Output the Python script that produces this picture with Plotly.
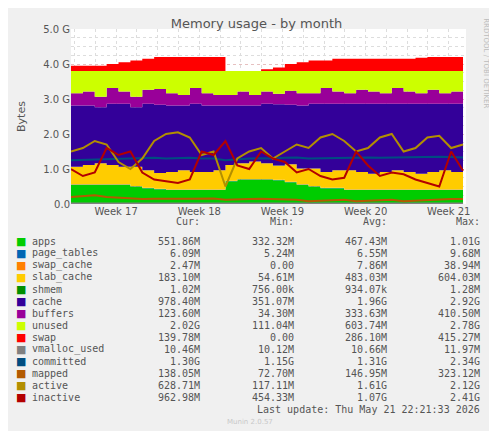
import plotly.graph_objects as go

days = list(range(34))
week_pos = [3.8, 10.8, 17.8, 24.8, 31.8]
week_labels = ["Week 17", "Week 18", "Week 19", "Week 20", "Week 21"]
day_grid = [0.3 + 1.75 * i for i in range(19)]

# stacked areas (GB)
apps = [0.55, 0.55, 0.55, 0.55, 0.55, 0.5, 0.45, 0.42, 0.4, 0.4, 0.4, 0.4, 0.4, 0.65, 0.7, 0.7, 0.7,
        0.68, 0.62, 0.55, 0.5, 0.45, 0.45, 0.4, 0.4, 0.4, 0.4, 0.4, 0.4, 0.4, 0.4, 0.4, 0.4, 0.4]
page_tables = [0.006] * 34
swap_cache = [0.01] * 34
slab_cache = [0.5, 0.55, 0.6, 0.55, 0.5, 0.55, 0.5, 0.45, 0.5, 0.55, 0.5, 0.5, 0.55, 0.45, 0.45, 0.5, 0.45,
              0.4, 0.5, 0.45, 0.5, 0.45, 0.5, 0.55, 0.5, 0.45, 0.5, 0.55, 0.5, 0.45, 0.5, 0.55, 0.5, 0.45]
shmem = [0.001] * 34
cache = [1.75, 1.7, 1.6, 1.75, 1.8, 1.7, 1.9, 1.95, 1.9, 1.85, 1.95, 1.9, 1.85, 1.7, 1.65, 1.6, 1.7,
         1.75, 1.7, 1.8, 1.85, 1.95, 1.9, 1.9, 1.95, 2.0, 1.95, 1.9, 1.95, 2.0, 1.95, 1.9, 1.95, 2.05]
buffers = [0.35, 0.4, 0.3, 0.45, 0.35, 0.3, 0.4, 0.45, 0.35, 0.3, 0.45, 0.35, 0.3, 0.3, 0.4, 0.3, 0.35,
           0.3, 0.4, 0.35, 0.3, 0.45, 0.35, 0.3, 0.4, 0.35, 0.3, 0.45, 0.35, 0.3, 0.4, 0.3, 0.35, 0.3]
unused = [0.63, 0.58, 0.73, 0.48, 0.58, 0.73, 0.53, 0.51, 0.63, 0.68, 0.48, 0.63, 0.68, 0.68, 0.58, 0.68, 0.58,
          0.65, 0.56, 0.63, 0.63, 0.48, 0.58, 0.63, 0.53, 0.58, 0.63, 0.48, 0.58, 0.63, 0.53, 0.63, 0.58, 0.58]
swap = [0.15, 0.15, 0.15, 0.2, 0.25, 0.3, 0.35, 0.4, 0.4, 0.4, 0.4, 0.4, 0.4, 0, 0, 0, 0.05,
        0.1, 0.2, 0.25, 0.3, 0.3, 0.35, 0.35, 0.35, 0.35, 0.35, 0.35, 0.35, 0.38, 0.4, 0.4, 0.4, 0.4]

# lines (GB)
vmalloc_used = [0.011] * 34
committed = [1.25, 1.26, 1.27, 1.28, 1.3, 1.3, 1.31, 1.32, 1.3, 1.31, 1.32, 1.3, 1.3, 1.25, 1.28, 1.3, 1.31,
             1.3, 1.32, 1.33, 1.3, 1.31, 1.32, 1.33, 1.34, 1.33, 1.32, 1.33, 1.34, 1.33, 1.34, 1.35, 1.34, 1.33]
mapped = [0.2, 0.22, 0.25, 0.2, 0.18, 0.15, 0.14, 0.15, 0.14, 0.15, 0.15, 0.16, 0.16, 0.12, 0.14, 0.14, 0.15,
          0.14, 0.12, 0.12, 0.08, 0.1, 0.1, 0.12, 0.08, 0.1, 0.1, 0.12, 0.08, 0.1, 0.1, 0.12, 0.14, 0.14]
active = [1.5, 1.6, 1.8, 1.7, 1.2, 1.0, 1.3, 1.8, 2.0, 2.05, 1.9, 1.4, 1.5, 0.5, 1.3, 1.5, 1.6,
          1.3, 1.5, 1.7, 1.6, 1.9, 2.0, 1.8, 1.5, 1.6, 1.9, 2.0, 1.5, 1.6, 1.9, 1.95, 1.6, 1.7]
inactive = [1.0, 0.8, 0.9, 1.6, 1.4, 1.5, 0.9, 0.7, 0.65, 0.6, 0.7, 1.5, 1.4, 1.8, 1.1, 1.0, 1.5,
            1.3, 1.2, 0.9, 1.0, 0.8, 0.7, 0.75, 1.5, 1.1, 0.8, 0.9, 0.85, 0.7, 0.6, 0.5, 1.5, 0.95]

legend_rows = [
    ("apps", "#00cc00", "551.86M", "332.32M", "467.43M", "1.01G"),
    ("page_tables", "#0066b3", "6.09M", "5.24M", "6.55M", "9.68M"),
    ("swap_cache", "#ff8000", "2.47M", "0.00", "7.86M", "38.94M"),
    ("slab_cache", "#ffcc00", "183.10M", "54.61M", "483.03M", "604.03M"),
    ("shmem", "#008f00", "1.02M", "756.00k", "934.07k", "1.28M"),
    ("cache", "#330099", "978.40M", "351.07M", "1.96G", "2.92G"),
    ("buffers", "#990099", "123.60M", "34.30M", "333.63M", "410.50M"),
    ("unused", "#ccff00", "2.02G", "111.04M", "603.74M", "2.78G"),
    ("swap", "#ff0000", "139.78M", "0.00", "286.10M", "415.27M"),
    ("vmalloc_used", "#808080", "10.46M", "10.12M", "10.66M", "11.97M"),
    ("committed", "#004d80", "1.30G", "1.15G", "1.31G", "2.34G"),
    ("mapped", "#b35a00", "138.05M", "72.70M", "146.95M", "323.12M"),
    ("active", "#b38f00", "628.71M", "117.11M", "1.61G", "2.12G"),
    ("inactive", "#b30000", "962.98M", "454.33M", "1.07G", "2.41G"),
]

series = {"apps": apps, "page_tables": page_tables, "swap_cache": swap_cache, "slab_cache": slab_cache,
          "shmem": shmem, "cache": cache, "buffers": buffers, "unused": unused, "swap": swap,
          "vmalloc_used": vmalloc_used, "committed": committed, "mapped": mapped,
          "active": active, "inactive": inactive}
stacked = ["apps", "page_tables", "swap_cache", "slab_cache", "shmem", "cache", "buffers", "unused", "swap"]
colors = {r[0]: r[1] for r in legend_rows}

fig = go.Figure()
for name in stacked:
    fig.add_trace(go.Scatter(x=days, y=series[name], stackgroup="mem", mode="none",
                             fillcolor=colors[name], line_shape="hv", name=name))
for name in ["vmalloc_used", "committed", "mapped", "active", "inactive"]:
    fig.add_trace(go.Scatter(x=days, y=series[name], mode="lines",
                             line=dict(color=colors[name], width=2), name=name))

W, H = 497, 431
L, R, T, B = 59, 458, 21, 196
def px(x):
    # x is the target pixel in the reference; rendering sits ~8px right
    return ((x - 8) - L) / (R - L)
def py(y):
    # y is the target pixel in the reference; rendering sits 7px lower
    return (B - (y - 7)) / (B - T)

mono = dict(family="DejaVu Sans Mono", size=10, color="#555555")
ann = []
for i, h in enumerate(["Cur:", "Min:", "Avg:", "Max:"]):
    ann.append(dict(x=px([199, 294, 388, 482][i]), y=py(221), text=h, xanchor="right"))
for j, row in enumerate(legend_rows):
    yy = py(240 + 12 * j)
    ann.append(dict(x=px(26), y=yy, text=row[0], xanchor="left"))
    ann.append(dict(x=px(9), y=yy, text="■", xanchor="left", font=dict(family="DejaVu Sans", size=11, color=row[1])))
    for k, v in enumerate(row[2:]):
        ann.append(dict(x=px([199, 294, 388, 482][k]), y=yy, text=v, xanchor="right"))
ann.append(dict(x=px(482), y=py(408), text="Last update: Thu May 21 22:21:33 2026", xanchor="right"))
ann.append(dict(x=px(248), y=py(421), text="Munin 2.0.57", xanchor="center",
                font=dict(family="DejaVu Sans", size=7, color="#c8c8c8")))
ann.append(dict(x=px(486), y=py(62), text="RRDTOOL / TOBI OETIKER", textangle=90, xanchor="center",
                font=dict(family="DejaVu Sans", size=7, color="#bbbbbb")))
for a in ann:
    a.update(xref="paper", yref="paper", showarrow=False, yanchor="middle")
    a.setdefault("font", mono)

fig.update_layout(
    width=W, height=H, margin=dict(l=L, r=W - R, t=T, b=H - B),
    paper_bgcolor="#f0f0f0", plot_bgcolor="#ffffff", showlegend=False,
    title=dict(text="Memory usage - by month", x=0.5, xanchor="center", y=0.975,
               font=dict(family="DejaVu Sans", size=13, color="#555555")),
    annotations=ann,
    xaxis=dict(range=[0, 33.25], tickvals=week_pos, ticktext=week_labels, showgrid=False,
               tickfont=dict(family="DejaVu Sans", size=10, color="#555555"), zeroline=False,
               minor=dict(tickvals=day_grid, showgrid=True, gridcolor="#dddddd", griddash="dot")),
    yaxis=dict(range=[0, 5.0], tickvals=[0, 1, 2, 3, 4, 5],
               ticktext=["0.0", "1.0 G", "2.0 G", "3.0 G", "4.0 G", "5.0 G"],
               gridcolor="#e6c0c0", griddash="dot", zeroline=False,
               minor=dict(dtick=0.25, showgrid=True, gridcolor="#dddddd", griddash="dot"),
               title=dict(text="Bytes", font=dict(family="DejaVu Sans", size=11, color="#555555")),
               tickfont=dict(family="DejaVu Sans", size=10, color="#555555")),
)
fig.write_html("out.html")
